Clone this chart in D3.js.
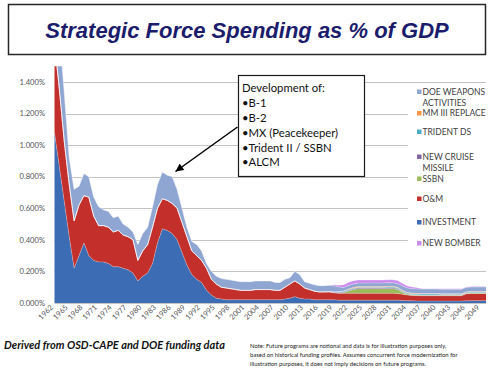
<!DOCTYPE html>
<html><head><meta charset="utf-8">
<script src="https://cdn.jsdelivr.net/npm/d3@7"></script>
<style>body{margin:0;background:#fff;} svg{display:block}</style>
</head><body><svg id="c" width="500" height="375"></svg>
<script>
// ---------------- DATA ----------------
const firstYear = 1962, lastYear = 2050;
const tickYears = [1962,1965,1968,1971,1974,1977,1980,1983,1986,1989,1992,1995,1998,2001,2004,2007,2010,2013,2016,2019,2022,2025,2028,2031,2034,2037,2040,2043,2046,2049];
const yTicks = [0,0.2,0.4,0.6,0.8,1.0,1.2,1.4];

// full-length series, 1962..2050 (% of GDP)
const investment = [
 1.08,0.86,0.64,0.42,0.22,0.30,0.38,0.30,0.27,0.26,
 0.26,0.25,0.23,0.23,0.22,0.21,0.19,0.14,0.17,0.19,
 0.25,0.38,0.47,0.46,0.44,0.40,0.32,0.24,0.18,0.15,
 0.13,0.08,0.05,0.03,0.025,0.02,0.02,0.02,0.02,0.02,
 0.02,0.02,0.02,0.02,0.02,0.02,0.02,0.025,0.03,0.04,
 0.03,0.025,0.025,0.02,0.02,0.02,0.02,0.02,0.018,0.018,
 0.018,0.018,0.018,0.018,0.018,0.018,0.018,0.018,0.018,0.018,
 0.018,0.016,0.015,0.014,0.013,0.012,0.012,0.012,0.012,0.012,
 0.012,0.012,0.012,0.012,0.014,0.015,0.015,0.015,0.015];
const om = [
 0.57,0.49,0.38,0.33,0.30,0.32,0.30,0.37,0.28,0.23,
 0.23,0.23,0.22,0.23,0.21,0.21,0.21,0.13,0.16,0.18,
 0.23,0.22,0.19,0.19,0.19,0.20,0.19,0.18,0.15,0.15,
 0.14,0.14,0.10,0.09,0.075,0.075,0.07,0.065,0.06,0.06,
 0.06,0.065,0.065,0.065,0.065,0.06,0.06,0.075,0.09,0.10,
 0.09,0.07,0.06,0.055,0.05,0.05,0.05,0.045,0.044,0.044,
 0.043,0.043,0.043,0.043,0.043,0.043,0.043,0.043,0.043,0.043,
 0.042,0.039,0.035,0.034,0.034,0.034,0.034,0.034,0.034,0.034,
 0.034,0.034,0.034,0.034,0.044,0.045,0.045,0.045,0.045];
const doeHistoric = [ // 1962..2019
 0.30,0.37,0.31,0.17,0.20,0.12,0.14,0.13,0.12,0.12,
 0.10,0.10,0.09,0.09,0.07,0.06,0.05,0.10,0.11,0.11,
 0.13,0.15,0.17,0.16,0.17,0.12,0.09,0.06,0.06,0.07,
 0.06,0.03,0.05,0.05,0.055,0.055,0.055,0.055,0.055,0.055,
 0.055,0.055,0.055,0.055,0.055,0.05,0.05,0.05,0.04,0.06,
 0.06,0.04,0.04,0.04,0.04,0.04,0.04,0.04];
const doeFuture = [ // 2020..2050
 0.03,0.022,0.022,0.022,0.022,0.022,0.022,0.022,0.022,0.022,
 0.022,0.022,0.022,0.028,0.028,0.028,0.028,0.028,0.028,0.028,
 0.028,0.028,0.028,0.028,0.028,0.028,0.028,0.028,0.028,0.028,0.028];

// new programs: values from their start year to 2050
const ssbnStart = 2021;
const ssbn = [0.005,0.015,0.025,0.03,0.03,0.03,0.03,0.03,0.03,0.03,0.03,0.025,0.012,0.005,
 0.003,0.003,0.003,0.003,0.003,0.003,0.003,0.003,0.003,0.003,0.003,0.003,0.003,0.003,0.003,0.003];
const cruiseStart = 2018;
const cruise = [0.002,0.005,0.005,0.005,0.005,0.005,0.005,0.005,0.005,0.005,0.005,0.005,0.005,0.005,0.005,
 0.002,0.002,0.002,0.002,0.002,0.002,0.002,0.002,0.002,0.002,0.002,0.002,0.002,0.002,0.002,0.002,0.002,0.002];
const tridentStart = 2020;
const trident = [0.004,0.004,0.004,0.004,0.004,0.004,0.004,0.004,0.004,0.004,
 0.006,0.006,0.006,0.006,0.006,0.006,0.006,0.006,0.006,0.006,0.006,
 0.005,0.005,0.005,0.005,0.005,0.005,0.005,0.005,0.005,0.005];
const mm3Start = 2022;
const mm3 = [0.004,0.004,0.004,0.004,0.004,0.004,0.004,0.004,0.004,0.004,0.004,0.004,0.004,0.004,
 0.003,0.003,0.003,0.003,0.003,0.003,0.003,0.003,0.003,0.003,0.003,0.003,0.003,0.003,0.003];
const bomberStart = 2019;
const bomber = [0.005,0.012,0.018,0.02,0.02,0.02,0.02,0.02,0.02,0.02,0.02,0.02,0.02,0.02,
 0.016,0.012,0.01,0.008,0.003,0.003,0.003,0.003,0.003,0.003,0.003,0.003,0.003,0.003,0.003,0.003,0.003,0.003];

const seriesNames = ["INVESTMENT","O&M","SSBN","NEW CRUISE MISSILE","TRIDENT DS","MM III REPLACE","DOE WEAPONS ACTIVITIES","NEW BOMBER"];
const seriesColors = ["#3b6cb4","#c3302b","#9bbb59","#8064a2","#4bacc6","#f79646","#8fa6d3","#cc8cee"];
const legendOrder = ["DOE WEAPONS ACTIVITIES","MM III REPLACE","TRIDENT DS","NEW CRUISE MISSILE","SSBN","O&M","INVESTMENT","NEW BOMBER"];
const legendLines = {"DOE WEAPONS ACTIVITIES":["DOE WEAPONS","ACTIVITIES"],"NEW CRUISE MISSILE":["NEW CRUISE","MISSILE"]};
const annotationLines = ["Development of:","\u2022B-1","\u2022B-2","\u2022MX (Peacekeeper)","\u2022Trident II / SSBN","\u2022ALCM"];
const noteLines = [
 "Note:  Future programs are notional and data is for illustration purposes only,",
 "based on historical funding profiles.  Assumes concurrent force modernization for",
 "illustration purposes, it does not imply decisions on future programs."];

// ---------------- BUILD TABLE ----------------
const years = d3.range(firstYear, lastYear + 1);
function fromStart(start, vals){ return years.map(y => (y >= start && y - start < vals.length) ? vals[y - start] : 0); }
const doe = years.map(y => y < 2020 ? doeHistoric[y - firstYear] : doeFuture[y - 2020]);
const seriesData = {
  "INVESTMENT": investment, "O&M": om,
  "SSBN": fromStart(ssbnStart, ssbn), "NEW CRUISE MISSILE": fromStart(cruiseStart, cruise),
  "TRIDENT DS": fromStart(tridentStart, trident), "MM III REPLACE": fromStart(mm3Start, mm3),
  "DOE WEAPONS ACTIVITIES": doe, "NEW BOMBER": fromStart(bomberStart, bomber)
};
const table = years.map((y,i) => { const r = {year:y}; seriesNames.forEach(n => r[n] = seriesData[n][i]); return r; });
const color = d3.scaleOrdinal(seriesNames, seriesColors);

// ---------------- DRAW ----------------
const svg = d3.select("#c");
const x = d3.scaleLinear().domain([firstYear, lastYear]).range([54.5, 486]);
const y = d3.scaleLinear().domain([0, 1.5]).range([303, 66.2]);

// title box
svg.append("rect").attr("x",8.5).attr("y",4.5).attr("width",477).attr("height",50)
  .attr("fill","#fff").attr("stroke","#262626").attr("stroke-width",1.5);
svg.append("text").attr("x",247).attr("y",37.5).attr("text-anchor","middle")
  .attr("font-family","'Liberation Sans', Arial, sans-serif").attr("font-weight","bold").attr("font-style","italic")
  .attr("font-size",22).attr("fill","#1b1c6b").text("Strategic Force Spending as % of GDP");

// gridlines
svg.append("g").selectAll("line").data(yTicks).join("line")
  .attr("x1",54.5).attr("x2",486).attr("y1",d=>Math.round(y(d))+0.5).attr("y2",d=>Math.round(y(d))+0.5)
  .attr("stroke","#c4c4c4").attr("stroke-width",1);

// y labels
svg.append("g").selectAll("text").data(yTicks).join("text")
  .attr("x",45).attr("y",d=>y(d)).attr("dy","0.35em").attr("text-anchor","end")
  .attr("font-family","Lato, 'Open Sans', sans-serif").attr("font-size",7.6).attr("fill","#555")
  .text(d=>d3.format(".3f")(d)+"%");

// areas
svg.append("clipPath").attr("id","pc").append("rect").attr("x",54).attr("y",66.2).attr("width",433).attr("height",237);
const stack = d3.stack().keys(seriesNames);
const layers = stack(table);
const area = d3.area().x(d=>x(d.data.year)).y0(d=>y(d[0])).y1(d=>y(d[1]));
const topLine = d3.line().x(d=>x(d.data.year)).y(d=>y(d[1]));
const g = svg.append("g").attr("clip-path","url(#pc)");
g.selectAll("path.a").data(layers).join("path").attr("class","a")
  .attr("d",area).attr("fill",d=>color(d.key));
g.selectAll("path.l").data(layers).join("path").attr("class","l")
  .attr("d",topLine).attr("fill","none").attr("stroke","rgba(255,255,255,0.35)").attr("stroke-width",0.8);

// x labels
svg.append("g").selectAll("text").data(tickYears).join("text")
  .attr("transform",d=>`translate(${x(d)-1},${308}) rotate(-45)`)
  .attr("text-anchor","end")
  .attr("font-family","Lato, 'Open Sans', sans-serif").attr("font-size",7.4).attr("fill","#555")
  .text(d=>d);

// legend (white box over gridlines)
svg.append("rect").attr("x",408).attr("y",86).attr("width",78).attr("height",180).attr("fill","#fff");
const legendY = {"DOE WEAPONS ACTIVITIES":92,"MM III REPLACE":113.5,"TRIDENT DS":132,"NEW CRUISE MISSILE":157,
                 "SSBN":179,"O&M":199,"INVESTMENT":222.5,"NEW BOMBER":243.5};
const lg = svg.append("g");
legendOrder.forEach(name => {
  const yy = legendY[name];
  lg.append("rect").attr("x",417).attr("y",yy-2.5).attr("width",4.5).attr("height",4.5).attr("fill",color(name));
  const lines = legendLines[name] || [name];
  lines.forEach((t,i) => {
    lg.append("text").attr("x",422.5).attr("y",yy+i*10.8).attr("dy","0.35em")
      .attr("font-family","Lato, 'Open Sans', sans-serif").attr("font-size",8.5).attr("fill","#404040").text(t);
  });
});

// annotation box + arrow
const defs = svg.append("defs");
defs.append("marker").attr("id","ah").attr("viewBox","0 0 10 10").attr("refX",10).attr("refY",5)
  .attr("markerWidth",9).attr("markerHeight",8).attr("markerUnits","userSpaceOnUse").attr("orient","auto")
  .append("path").attr("d","M0,0 L10,5 L0,10 z").attr("fill","#000");
svg.append("line").attr("x1",237.5).attr("y1",127).attr("x2",175.5).attr("y2",171.5)
  .attr("stroke","#000").attr("stroke-width",1.5).attr("marker-end","url(#ah)");
svg.append("rect").attr("x",238.5).attr("y",75.5).attr("width",126).attr("height",101)
  .attr("fill","#fff").attr("stroke","#1a1a1a").attr("stroke-width",1.2);
svg.append("g").selectAll("text").data(annotationLines).join("text")
  .attr("x",242).attr("y",(d,i)=>88+i*14.9).attr("dy","0.35em")
  .attr("font-family","Lato, 'Open Sans', sans-serif").attr("font-size",11.3).attr("fill","#111")
  .text(d=>d);

// footer
svg.append("text").attr("x",4).attr("y",349).attr("font-family","Lato, 'Open Sans', sans-serif")
  .attr("font-weight","bold").attr("font-style","italic").attr("font-size",11).attr("fill","#111")
  .text("Derived from OSD-CAPE and DOE funding data");
svg.append("g").selectAll("text").data(noteLines).join("text")
  .attr("x",250).attr("y",(d,i)=>347.5+i*9.3)
  .attr("font-family","Lato, 'Open Sans', sans-serif").attr("font-size",5.9).attr("fill","#222")
  .text(d=>d);
</script></body></html>
